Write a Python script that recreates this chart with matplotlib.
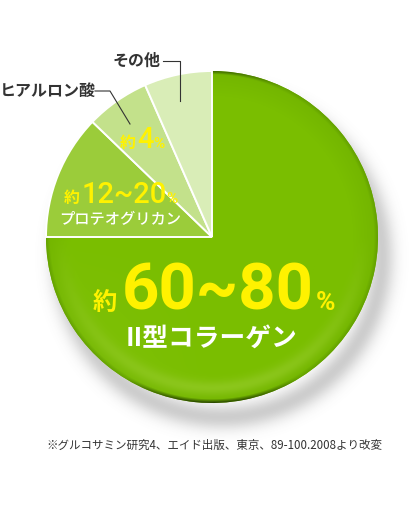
import numpy as np
import matplotlib
matplotlib.use('Agg')
import matplotlib.pyplot as plt

plt.rcParams['font.family'] = ['Noto Sans CJK JP', 'DejaVu Sans']

categories = ['II型コラーゲン', 'プロテオグリカン', 'ヒアルロン酸', 'その他']
values = [75.0, 12.2, 6.2, 6.6]
value_labels = ['60~80', '12~20', '4', '']
colors = ['#7BBE00', '#9BCC3A', '#C3E18B', '#D9EDB7']
footnote = '※グルコサミン研究4、エイド出版、東京、89-100.2008より改変'

W, H = 409, 530
fig = plt.figure(figsize=(W / 100, H / 100), dpi=100)
ax = fig.add_axes([0, 0, 1, 1])


def Y(y):
    return H - y


cx, cy, R = 212, 237, 166
YEL = '#FFF200'
DARK = '#333333'

# ---- drop shadow (soft ring, lighter near the sphere) ----
sx, sy = cx + 10, cy + 20
x0, x1, y0, y1 = sx - R - 50, sx + R + 50, sy - R - 50, sy + R + 50
gx, gy = np.meshgrid(np.arange(x0, x1) + 0.5, np.arange(y0, y1) + 0.5)
d = np.hypot(gx - sx, gy - sy)
a = np.exp(-((d - (R - 6)) / 13.0) ** 2) * 0.30
sh = np.zeros(d.shape + (4,))
sh[..., 0:3] = 0.35
sh[..., 3] = a
ax.imshow(sh, extent=(x0, x1, Y(y1), Y(y0)), origin='upper', zorder=0.5,
          interpolation='bilinear')

# ---- pie ----
wedges, _ = ax.pie(values, colors=colors, startangle=90, counterclock=False,
                   center=(cx, Y(cy)), radius=R, frame=False,
                   wedgeprops=dict(linewidth=0))
wedges[0].set_zorder(1)
for w in wedges[1:]:
    w.set_edgecolor('white')
    w.set_linewidth(1.4)
    w.set_zorder(3)

# ---- sphere shading on the big wedge ----
x0, x1, y0, y1 = cx - R - 2, cx + R + 2, cy - R - 2, cy + R + 2
gx, gy = np.meshgrid(np.arange(x0, x1) + 0.5, np.arange(y0, y1) + 0.5)
dx = (gx - cx) / R
dy = (gy - cy) / R
r = np.hypot(dx, dy)
base = np.array([122, 190, 0], float)
img = np.ones(r.shape + (3,)) * base


def blend(img, col, t):
    t = np.clip(t, 0, 1)[..., None]
    return img * (1 - t) + np.array(col, float) * t


# subtle darkening toward the rim
img = blend(img, [108, 172, 0], (r - 0.85) / 0.15 * 0.5)
# lighter inner ring, strongest at the bottom
ring = np.exp(-((r - 0.91) / 0.045) ** 2) * np.clip(dy / r.clip(1e-6), 0, 1)
img = blend(img, [160, 210, 55], ring * 0.5)
# lighter lower-left area
img = blend(img, [138, 198, 28], np.clip(-dx, 0, 1) * np.clip(dy, 0, 1) * 0.5)
# thin outer rim
img = blend(img, [95, 155, 0], (r - 0.975) / 0.025 * 0.8)
# dark bottom edge
img = blend(img, [35, 60, 0], ((r - 0.975) / 0.025) * np.clip((dy - 0.85) / 0.15, 0, 1))
# dark top edge
img = blend(img, [60, 100, 0], ((r - 0.98) / 0.02) * np.clip((-dy - 0.9) / 0.1, 0, 1))
im = ax.imshow(img / 255.0, extent=(x0, x1, Y(y1), Y(y0)), origin='upper',
               zorder=2, interpolation='bilinear')
im.set_clip_path(wedges[0])

ax.set_xlim(0, W)
ax.set_ylim(0, H)
ax.set_aspect('auto')
ax.axis('off')

# ---- leader lines ----
ax.plot([163, 180, 180], [Y(61), Y(61), Y(101)], color=DARK, lw=0.8, zorder=4)
ax.plot([95, 110, 130], [Y(91), Y(91), Y(124)], color=DARK, lw=0.8, zorder=4)

DIG = ['Roboto', 'Noto Sans CJK JP']

# big slice label
ax.text(117, Y(310), '約', color=YEL, fontsize=17.5, fontweight='bold', ha='right', va='baseline', zorder=5)
ax.text(218, Y(310), value_labels[0], color=YEL, fontsize=47, fontweight='bold', family=DIG,
        ha='center', va='baseline', zorder=5)
ax.text(316, Y(310), '%', color=YEL, fontsize=19, fontweight='bold', family=DIG, ha='left', va='baseline', zorder=5)
ax.text(212, Y(346), categories[0], color='white', fontsize=18.5, fontweight='bold',
        ha='center', va='baseline', zorder=5)

# proteoglycan
ax.text(80, Y(203), '約', color=YEL, fontsize=11.5, fontweight='bold', ha='right', va='baseline', zorder=5)
ax.text(124.5, Y(203), value_labels[1], color=YEL, fontsize=21, family=DIG, fontweight='medium',
        ha='center', va='baseline', zorder=5)
ax.text(166, Y(203), '%', color=YEL, fontsize=11, family=DIG, fontweight='bold', ha='left', va='baseline', zorder=5)
ax.text(120, Y(224), categories[1], color='white', fontsize=11, fontweight='medium',
        ha='center', va='baseline', zorder=5)

# hyaluronic acid
ax.text(136, Y(148), '約', color=YEL, fontsize=11.5, fontweight='bold', ha='right', va='baseline', zorder=5)
ax.text(145, Y(148), value_labels[2], color=YEL, fontsize=21, family=DIG, fontweight='medium',
        ha='center', va='baseline', zorder=5)
ax.text(153, Y(148), '%', color=YEL, fontsize=11, family=DIG, fontweight='bold', ha='left', va='baseline', zorder=5)

# outside labels
ax.text(161, Y(66), categories[3], color=DARK, fontsize=11.5, fontweight='bold',
        ha='right', va='baseline', zorder=5)
ax.text(0, Y(96), categories[2], color=DARK, fontsize=11.5, fontweight='bold',
        ha='left', va='baseline', zorder=5)

ax.text(214, Y(449), footnote, color=DARK, fontsize=8.3, ha='center', va='baseline', zorder=5)

fig.savefig('out.png', dpi=100, facecolor='white')
